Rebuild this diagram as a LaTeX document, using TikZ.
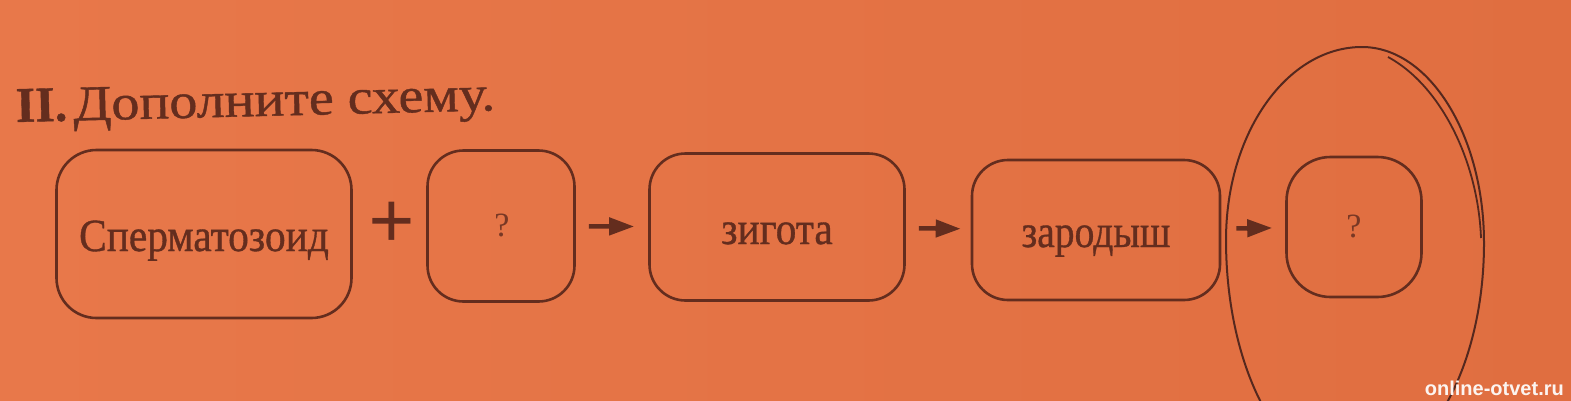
\documentclass[tikz,border=0pt]{standalone}
\usepackage{fontspec}
\setmainfont{Liberation Serif}
\newfontfamily\inkfont[FakeBold=0.8]{Liberation Serif}
\newfontfamily\wmfont{Liberation Sans}
\usetikzlibrary{arrows.meta}
\definecolor{bgl}{RGB}{232,120,74}
\definecolor{bgr}{RGB}{224,110,64}
\definecolor{ink}{RGB}{100,45,30}
\definecolor{pen}{RGB}{85,40,30}
\newcommand{\boxlabel}[1]{\scalebox{0.9}[1]{#1}}
\begin{document}
\begin{tikzpicture}[x=1pt,y=-1pt,
  box/.style={draw=ink, line width=2.6pt, rounded corners=36pt, inner sep=0pt,
    text=ink, text height=34pt, text depth=0pt,
    font=\inkfont\fontsize{46}{50}\selectfont},
  qmark/.style={text=ink!85!bgl, inner sep=0pt, font=\fontsize{34}{36}\selectfont},
  arr/.style={draw=ink, line width=4.5pt, -{Triangle[length=25pt,width=17pt]}}]
\useasboundingbox (0,0) rectangle (1571,400);
\shade[left color=bgl, right color=bgr] (0,0) rectangle (1571,400);

% title
\node[anchor=base west, text=ink, inner sep=0pt, rotate=1.4,
  font=\inkfont\fontsize{50}{56}\selectfont]
  (title) at (16,122) {\textbf{II.}\hspace{6pt}\scalebox{1.12}[1]{Дополните схему.}};

% boxes
\node[box, minimum width=295pt, minimum height=168pt, rounded corners=40pt]
  (b1) at (204,234) {\boxlabel{Сперматозоид}};
\node[box, minimum width=147pt, minimum height=151pt]
  (b2) at (501,226) {};
\node[qmark] (q1) at (502,225) {?};
\node[box, minimum width=255pt, minimum height=147pt]
  (b3) at (777,227) {\boxlabel{зигота}};
\node[box, minimum width=248pt, minimum height=140pt]
  (b4) at (1096,230) {\scalebox{0.86}[1]{зародыш}};
\node[box, minimum width=135pt, minimum height=140pt, rounded corners=44pt]
  (b5) at (1354,227) {};
\node[qmark] (q2) at (1354,226) {?};

% plus
\node[text=ink, inner sep=0pt, font=\fontsize{82}{82}\selectfont\bfseries]
  (plus) at (392,225) {+};

% arrows
\draw[arr, shorten <=13pt, shorten >=14pt] (b2) -- (b3);
\draw[arr, shorten <=13pt, shorten >=10pt] (b3) -- (b4);
\draw[arr, shorten <=15pt, shorten >=13pt] (b4) -- (b5);

% hand-drawn marks
\draw[pen, line width=2pt] (1226,240)
  .. controls (1226,133) and (1287,47) .. (1362,47)
  .. controls (1429,47) and (1484,135) .. (1484,243)
  .. controls (1484,371) and (1424,474) .. (1350,474)
  .. controls (1282,474) and (1226,369) .. (1226,240) -- cycle;
\draw[pen, line width=1.8pt] (1388,57) .. controls (1440,85) and (1478,160) .. (1481,238);

% watermark
\node[anchor=south east, text=white!92!bgr, inner sep=0pt,
  font=\wmfont\bfseries\fontsize{20}{22}\selectfont] (wm) at (1564,396) {online-otvet.ru};
\end{tikzpicture}
\end{document}
